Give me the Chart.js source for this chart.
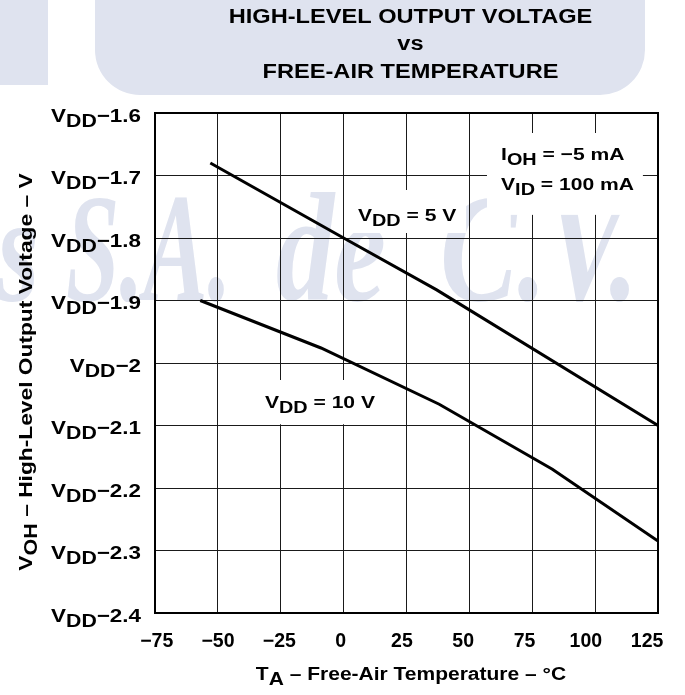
<!DOCTYPE html>
<html><head><meta charset="utf-8">
<script src="https://cdn.jsdelivr.net/npm/chart.js@4/dist/chart.umd.min.js"></script>
<style>html,body{margin:0;padding:0;background:#fff}#wrap{width:685px;height:695px;position:relative}</style>
</head><body><div id="wrap"><canvas id="c" width="685" height="695"></canvas></div>
<script>
// ---- data ----
const titleLines = ['HIGH-LEVEL OUTPUT VOLTAGE', 'vs', 'FREE-AIR TEMPERATURE'];
const xTickValues = [-75, -50, -25, 0, 25, 50, 75, 100, 125];
const xTickLabels = ['−75', '−50', '−25', '0', '25', '50', '75', '100', '125'];
const yTickValues = [-1.6, -1.7, -1.8, -1.9, -2.0, -2.1, -2.2, -2.3, -2.4];
const yTickLabels = ['−1.6', '−1.7', '−1.8', '−1.9', '−2', '−2.1', '−2.2', '−2.3', '−2.4'];
const temp5V = [-53, 0, 37, 125];
const volt5V = [-1.68, -1.80, -1.883, -2.10];
const temp10V = [-57, -9, 38, 83, 125];
const volt10V = [-1.90, -1.976, -2.066, -2.170, -2.285];

const FAM = '"Liberation Sans", Arial, Helvetica, sans-serif';
const WM = '#dfe3ef';

// draws a run of text parts (with optional subscripts), stretched horizontally by o.sx
function drawRich(ctx, parts, x, y, o) {
  const sx = o.sx || 1;
  let W = 0;
  const ws = parts.map(p => {
    ctx.font = 'bold ' + (p.sub ? o.subSize : o.size) + 'px ' + FAM;
    const w = ctx.measureText(p.t).width;
    W += w; return w;
  });
  W *= sx;
  const x0 = o.align === 'right' ? x - W : (o.align === 'center' ? x - W / 2 : x);
  ctx.save();
  ctx.translate(x0, y);
  ctx.scale(sx, 1);
  ctx.textAlign = 'left';
  ctx.textBaseline = 'alphabetic';
  ctx.fillStyle = o.color || '#000';
  let cx = 0;
  parts.forEach((p, i) => {
    ctx.font = 'bold ' + (p.sub ? o.subSize : o.size) + 'px ' + FAM;
    ctx.fillText(p.t, cx, p.sub ? o.subDy : 0);
    cx += ws[i];
  });
  ctx.restore();
}

function wmWord(ctx, t, x, y, s) {
  ctx.save();
  ctx.translate(x, y);
  ctx.scale(s, 1);
  ctx.fillText(t, 0, 0);
  ctx.restore();
}

const decor = {
  id: 'decor',
  beforeDraw(chart) {
    const ctx = chart.ctx;
    ctx.save();
    ctx.fillStyle = WM;
    ctx.fillRect(0, 0, 48, 85);
    ctx.beginPath();
    ctx.roundRect(95, -60, 550, 155, [0, 0, 45, 45]);
    ctx.fill();
    ctx.font = 'bold italic 155px "Liberation Serif", "Times New Roman", serif';
    ctx.textAlign = 'left';
    wmWord(ctx, 'rs', -45, 300, 0.7);
    wmWord(ctx, 'S.A.', 66, 300, 0.62);
    wmWord(ctx, 'de', 276, 300, 0.75);
    wmWord(ctx, 'C.V.', 440, 300, 0.75);
    ctx.restore();
    titleLines.forEach((t, i) => {
      drawRich(ctx, [{ t }], 410.5, [23, 50, 78][i], { size: 20, sx: 1.18, align: 'center' });
    });
  },
  beforeDatasetsDraw(chart) {
    const ctx = chart.ctx;
    const xs = chart.scales.x, ys = chart.scales.y;
    const X = v => xs.getPixelForValue(v), Y = v => ys.getPixelForValue(v);
    ctx.save();
    ctx.fillStyle = '#fff';
    const boxes = [[57, 119, -1.632, -1.763], [3.3, 48.7, -1.7232, -1.792], [-32.5, 14.5, -2.0272, -2.098]];
    boxes.forEach(b => ctx.fillRect(X(b[0]), Y(b[2]), X(b[1]) - X(b[0]), Y(b[3]) - Y(b[2])));
    const o = { size: 17, subSize: 16, subDy: 5, sx: 1.24, align: 'left' };
    drawRich(ctx, [{ t: 'I' }, { t: 'OH', sub: true }, { t: ' = −5 mA' }], X(62.6), Y(-1.6752), o);
    drawRich(ctx, [{ t: 'V' }, { t: 'ID', sub: true }, { t: ' = 100 mA' }], X(62.6), Y(-1.7232), o);
    drawRich(ctx, [{ t: 'V' }, { t: 'DD', sub: true }, { t: ' = 5 V' }], X(5.7), Y(-1.7723), o);
    drawRich(ctx, [{ t: 'V' }, { t: 'DD', sub: true }, { t: ' = 10 V' }], X(-31.3), Y(-2.072), o);
    ctx.restore();
  },
  afterDatasetsDraw(chart) {
    const ctx = chart.ctx, a = chart.chartArea;
    ctx.save();
    ctx.strokeStyle = '#000';
    ctx.lineWidth = 2;
    ctx.strokeRect(a.left, a.top, a.right - a.left, a.bottom - a.top);
    ctx.restore();
  },
  afterDraw(chart) {
    const ctx = chart.ctx, a = chart.chartArea;
    const xs = chart.scales.x, ys = chart.scales.y;
    ctx.save();
    yTickValues.forEach((v, i) => {
      drawRich(ctx, [{ t: 'V' }, { t: 'DD', sub: true }, { t: yTickLabels[i] }], 141, ys.getPixelForValue(v) + 8.5,
        { size: 19, subSize: 18, subDy: 5, sx: 1.18, align: 'right' });
    });
    xTickValues.forEach((v, i) => {
      const px = xs.getPixelForValue(v);
      const lx = a.left + 1.7 + (px - a.left) * 0.975;
      drawRich(ctx, [{ t: xTickLabels[i] }], lx, 647, { size: 19.5, sx: 1, align: 'center' });
    });
    drawRich(ctx, [{ t: 'T' }, { t: 'A', sub: true }, { t: ' – Free-Air Temperature – °C' }], 411, 680,
      { size: 17.5, subSize: 17.5, subDy: 5, sx: 1.2, align: 'center' });
    ctx.translate(32, 372);
    ctx.rotate(-Math.PI / 2);
    drawRich(ctx, [{ t: 'V' }, { t: 'OH', sub: true }, { t: ' – High-Level Output Voltage – V' }], 0, 0,
      { size: 18.5, subSize: 17.5, subDy: 5, sx: 1.23, align: 'center' });
    ctx.restore();
  }
};

const toPts = (xs, ys) => xs.map((t, i) => ({ x: t, y: ys[i] }));

new Chart(document.getElementById('c'), {
  type: 'line',
  data: {
    datasets: [
      { label: 'VDD = 5 V', data: toPts(temp5V, volt5V), borderColor: '#000', borderWidth: 3, pointRadius: 0, tension: 0, fill: false },
      { label: 'VDD = 10 V', data: toPts(temp10V, volt10V), borderColor: '#000', borderWidth: 3, pointRadius: 0, tension: 0, fill: false }
    ]
  },
  options: {
    responsive: false,
    animation: false,
    devicePixelRatio: 1,
    layout: { padding: { left: 155, right: 27, top: 113, bottom: 82 } },
    plugins: {
      legend: { display: false },
      tooltip: { enabled: false },
      title: { display: false, text: titleLines }
    },
    scales: {
      x: {
        type: 'linear', min: -75, max: 125,
        ticks: { display: false, stepSize: 25 },
        grid: { color: '#1a1a1a', lineWidth: 1, drawTicks: false },
        border: { display: false }
      },
      y: {
        type: 'linear', min: -2.4, max: -1.6,
        ticks: { display: false, stepSize: 0.1 },
        grid: { color: '#1a1a1a', lineWidth: 1, drawTicks: false },
        border: { display: false }
      }
    }
  },
  plugins: [decor]
});
</script>
</body></html>
